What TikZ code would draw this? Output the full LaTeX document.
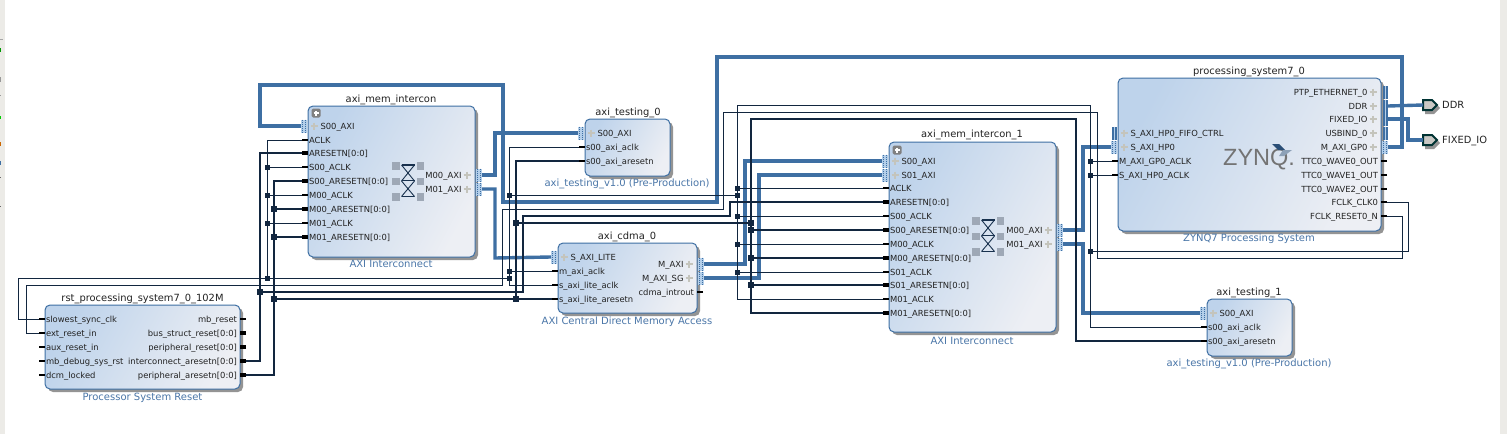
\documentclass[tikz,border=0pt]{standalone}
\usepackage{fontspec}
\setmainfont{DejaVu Sans}
\newfontfamily\zfont{Liberation Sans}
\usetikzlibrary{shadows}
\definecolor{vblue}{HTML}{3E6FA3}
\definecolor{vdark}{HTML}{12263F}
\definecolor{vlab}{HTML}{222222}
\definecolor{vsub}{HTML}{4A76A8}
\definecolor{vtop}{HTML}{BED3EB}
\definecolor{vbot}{HTML}{EDEFF4}
\definecolor{vstrip}{HTML}{ECEBE7}
\definecolor{vbus}{HTML}{B4CFEA}
\definecolor{vsq}{HTML}{9EA8B6}
\definecolor{vplus}{HTML}{C4C4BC}
\tikzset{
  x=1pt,y=-1pt,
  blockshape/.style={rectangle,rounded corners=5pt,draw=vblue,line width=1pt,left color=vtop,right color=vbot,shading angle=62,inner sep=0pt,outer sep=0pt,drop shadow={shadow xshift=3pt,shadow yshift=-3pt,fill=black!42,opacity=1}},
  pinlab/.style={font=\fontsize{8.4}{10}\selectfont,text=vlab,inner sep=0pt,outer sep=0pt},
  titlelab/.style={font=\fontsize{9.9}{11}\selectfont,text=vlab,inner sep=0pt,anchor=base},
  sublab/.style={font=\fontsize{10}{11}\selectfont,text=vsub,inner sep=0pt,anchor=base},
  portlab/.style={font=\fontsize{9.9}{11}\selectfont,text=vlab,inner sep=0pt,anchor=base west},
  stubc/.style={line width=2pt,draw=black},
  stubr/.style={line width=3.5pt,draw=black},
  busw/.style={line width=3.4pt,draw=vblue,line join=miter},
  thinw/.style={line width=1pt,draw=vdark,line join=miter},
  thickw/.style={line width=2pt,draw=vdark,line join=miter},
  jthin/.style={fill=vdark,inner sep=0pt,minimum size=5pt,rectangle},
  jthick/.style={fill=vdark,inner sep=0pt,minimum size=6.5pt,rectangle},
  portshape/.style={line width=2pt,draw=black!60!teal,fill=black!15!vstrip,line join=miter},
}
\newcommand\blk[5]{\node[blockshape,minimum width={(#4-#2)*1pt},minimum height={(#5-#3)*1pt}] (#1) at ({(#2+#4)/2},{(#3+#5)/2}) {};}
\newcommand\ttl[4]{\node[titlelab] (#1) at (#2,{#3+3}) {#4};}
\newcommand\subl[4]{\node[sublab] (#1) at (#2,{#3+3}) {#4};}
\newcommand\pinplus[2]{\draw[vplus,line width=1.3pt] ({#1-3.5},#2) -- ({#1+3.5},#2) ({#1},{#2-3.5}) -- ({#1},{#2+3.5});}
% clock / reset inputs and outputs
\newcommand\pcin[4]{\coordinate (#1) at ({#2-6},#3); \draw[stubc] (#1) -- ++(6,0); \node[pinlab,anchor=base west] (#1-t) at ({#2+1},{#3+3}) {#4};}
\newcommand\prin[4]{\coordinate (#1) at ({#2-6},#3); \draw[stubr] (#1) -- ++(6,0); \node[pinlab,anchor=base west] (#1-t) at ({#2+1},{#3+3}) {#4};}
\newcommand\pcout[4]{\coordinate (#1) at ({#2+6},#3); \draw[stubc] (#1) -- ++(-6,0); \node[pinlab,anchor=base east] (#1-t) at ({#2-3},{#3+3}) {#4};}
\newcommand\prout[4]{\coordinate (#1) at ({#2+6},#3); \draw[stubr] (#1) -- ++(-6,0); \node[pinlab,anchor=base east] (#1-t) at ({#2-3},{#3+3}) {#4};}
% bus pins
\newcommand\dotbus[2]{\fill[vbus] ({#1-3},{#2-6.5}) rectangle ({#1+3},{#2+6.5});
  \draw[vblue,line width=.9pt,dash pattern=on 1pt off 1pt] ({#1-1.5},{#2-6.5}) -- ({#1-1.5},{#2+6.5}) ({#1+1.5},{#2-6.5}) -- ({#1+1.5},{#2+6.5});}
\newcommand\solbus[2]{\fill[vblue] ({#1-2.5},{#2-6.5}) rectangle ({#1+2.5},{#2+6.5});
  \draw[vbus,line width=.9pt] ({#1},{#2-6.5}) -- ({#1},{#2+6.5});}
\newcommand\pbin[4]{\coordinate (#1) at ({#2-7},#3); \dotbus{#2-4}{#3} \pinplus{#2+6}{#3} \node[pinlab,anchor=base west] (#1-t) at ({#2+12.5},{#3+3}) {#4};}
\newcommand\pbout[4]{\coordinate (#1) at ({#2+7},#3); \dotbus{#2+4}{#3} \pinplus{#2-8}{#3} \node[pinlab,anchor=base east] (#1-t) at ({#2-13.5},{#3+3}) {#4};}
\newcommand\psin[4]{\coordinate (#1) at ({#2-7},#3); \solbus{#2-4}{#3} \pinplus{#2+6}{#3} \node[pinlab,anchor=base west] (#1-t) at ({#2+12.5},{#3+3}) {#4};}
\newcommand\psout[4]{\coordinate (#1) at ({#2+7},#3); \solbus{#2+4}{#3} \pinplus{#2-8}{#3} \node[pinlab,anchor=base east] (#1-t) at ({#2-13.5},{#3+3}) {#4};}
\newcommand\hglass[2]{%
  \foreach \dy in {0,15.5,31}{\fill[vsq] ({#1},{#2+\dy}) rectangle ({#1+7.5},{#2+\dy+7.5});
    \fill[vsq] ({#1+24.5},{#2+\dy}) rectangle ({#1+32},{#2+\dy+7.5});}
  \draw[vdark!85!vblue,line width=.9pt] ({#1+9.5},{#2+3}) -- ({#1+22.5},{#2+19}) ({#1+22.5},{#2+3}) -- ({#1+9.5},{#2+19}) ({#1+9.5},{#2+19}) -- ({#1+22.5},{#2+34.5}) ({#1+22.5},{#2+19}) -- ({#1+9.5},{#2+34.5}) ({#1+9.5},{#2+34.5}) -- ({#1+22.5},{#2+34.5});
  \draw[vdark!85!vblue,line width=1.8pt] ({#1+9.5},{#2+3}) -- ({#1+22.5},{#2+3}) ({#1+9.5},{#2+18.5}) -- ({#1+22.5},{#2+18.5});}
\newcommand\expbtn[2]{\fill[black!50,rounded corners=1.5pt] ({#1-4.5},{#2-4.5}) rectangle ({#1+4.5},{#2+4.5});
  \draw[white,line width=1.2pt] ({#1-2.5},#2) -- ({#1+2.5},#2) ({#1},{#2-2.5}) -- ({#1},{#2+2.5});}
\begin{document}
\begin{tikzpicture}
\useasboundingbox (0,0) rectangle (1507,434);
\fill[white] (0,0) rectangle (1507,434);
\fill[vstrip] (0,0) rectangle (5,434);
\fill[vstrip] (1500,0) rectangle (1507,434);
\fill[black!35] (0,39) rectangle (3,40);
\fill[green!60!black] (0,48) rectangle (1,52);
\fill[black!40] (0,77) rectangle (1,82);
\fill[black!40] (0,95) rectangle (1,96);
\fill[green!80!black] (0,116) rectangle (1,119);
\fill[orange!80!black] (0,142) rectangle (1,146);
\fill[vblue] (0,161) rectangle (1,165);
\fill[black!60] (0,177) rectangle (1,178);
\fill[black!60] (0,206) rectangle (1,207);

% ---- blocks ----
\blk{rst}{45}{305}{240}{389}
\blk{mem}{308}{106}{475}{257}
\blk{tst0}{585}{119}{670}{176}
\blk{cdma}{558}{243}{697}{313}
\blk{mem1}{889}{142}{1056}{332}
\blk{ps}{1118}{78}{1381}{231}
\blk{tst1}{1207}{299}{1292}{356}

\ttl{rst-n}{142.5}{298}{rst\_processing\_system7\_0\_102M}
\subl{rst-s}{142.5}{397}{Processor System Reset}
\ttl{mem-n}{391}{99}{axi\_mem\_intercon}
\subl{mem-s}{391}{264}{AXI Interconnect}
\ttl{tst0-n}{628}{112}{axi\_testing\_0}
\subl{tst0-s}{627}{183}{axi\_testing\_v1.0 (Pre-Production)}
\ttl{cdma-n}{627}{236}{axi\_cdma\_0}
\subl{cdma-s}{627}{321}{AXI Central Direct Memory Access}
\ttl{mem1-n}{972}{134}{axi\_mem\_intercon\_1}
\subl{mem1-s}{972}{341}{AXI Interconnect}
\ttl{ps-n}{1249}{71}{processing\_system7\_0}
\subl{ps-s}{1249}{238}{ZYNQ7 Processing System}
\ttl{tst1-n}{1249}{292}{axi\_testing\_1}
\subl{tst1-s}{1249}{363}{axi\_testing\_v1.0 (Pre-Production)}

% ---- rst pins ----
\pcin{rst-slow}{45}{319}{slowest\_sync\_clk}
\pcin{rst-ext}{45}{333}{ext\_reset\_in}
\pcin{rst-aux}{45}{347}{aux\_reset\_in}
\pcin{rst-dbg}{45}{361}{mb\_debug\_sys\_rst}
\pcin{rst-dcm}{45}{375}{dcm\_locked}
\pcout{rst-mb}{240}{319}{mb\_reset}
\prout{rst-bus}{240}{333}{bus\_struct\_reset[0:0]}
\prout{rst-per}{240}{347}{peripheral\_reset[0:0]}
\prout{rst-ic}{240}{361}{interconnect\_aresetn[0:0]}
\prout{rst-pa}{240}{375}{peripheral\_aresetn[0:0]}

% ---- axi_mem_intercon pins ----
\expbtn{316}{113}
\pbin{mem-s00}{308}{126}{S00\_AXI}
\pcin{mem-aclk}{308}{140}{ACLK}
\prin{mem-arst}{308}{153}{ARESETN[0:0]}
\pcin{mem-s0c}{308}{167}{S00\_ACLK}
\prin{mem-s0r}{308}{181}{S00\_ARESETN[0:0]}
\pcin{mem-m0c}{308}{195}{M00\_ACLK}
\prin{mem-m0r}{308}{209}{M00\_ARESETN[0:0]}
\pcin{mem-m1c}{308}{223}{M01\_ACLK}
\prin{mem-m1r}{308}{237}{M01\_ARESETN[0:0]}
\pbout{mem-m00}{475}{175}{M00\_AXI}
\pbout{mem-m01}{475}{189}{M01\_AXI}
\hglass{392}{162}

% ---- axi_testing_0 pins ----
\pbin{t0-s}{585}{133}{S00\_AXI}
\pcin{t0-c}{585}{147}{s00\_axi\_aclk}
\pcin{t0-r}{585}{161}{s00\_axi\_aresetn}

% ---- axi_cdma_0 pins ----
\pbin{c-lite}{558}{257}{S\_AXI\_LITE}
\pcin{c-mc}{558}{271}{m\_axi\_aclk}
\pcin{c-sc}{558}{285}{s\_axi\_lite\_aclk}
\pcin{c-sr}{558}{299}{s\_axi\_lite\_aresetn}
\pbout{c-m}{697}{264}{M\_AXI}
\pbout{c-sg}{697}{278}{M\_AXI\_SG}
\pcout{c-int}{697}{292}{cdma\_introut}

% ---- axi_mem_intercon_1 pins ----
\expbtn{897}{150}
\pbin{m1-s00}{889}{161}{S00\_AXI}
\pbin{m1-s01}{889}{175}{S01\_AXI}
\pcin{m1-aclk}{889}{188}{ACLK}
\prin{m1-arst}{889}{202}{ARESETN[0:0]}
\pcin{m1-s0c}{889}{216}{S00\_ACLK}
\prin{m1-s0r}{889}{230}{S00\_ARESETN[0:0]}
\pcin{m1-m0c}{889}{244}{M00\_ACLK}
\prin{m1-m0r}{889}{258}{M00\_ARESETN[0:0]}
\pcin{m1-s1c}{889}{272}{S01\_ACLK}
\prin{m1-s1r}{889}{285}{S01\_ARESETN[0:0]}
\pcin{m1-m1c}{889}{299}{M01\_ACLK}
\prin{m1-m1r}{889}{313}{M01\_ARESETN[0:0]}
\pbout{m1-m00}{1056}{230}{M00\_AXI}
\pbout{m1-m01}{1056}{244}{M01\_AXI}
\hglass{972}{217}

% ---- processing_system7_0 pins ----
\psin{ps-fifo}{1118}{133}{S\_AXI\_HP0\_FIFO\_CTRL}
\pbin{ps-hp0}{1118}{147}{S\_AXI\_HP0}
\pcin{ps-gpc}{1118}{161}{M\_AXI\_GP0\_ACLK}
\pcin{ps-hpc}{1118}{175}{S\_AXI\_HP0\_ACLK}
\psout{ps-ptp}{1381}{92}{PTP\_ETHERNET\_0}
\psout{ps-ddr}{1381}{106}{DDR}
\psout{ps-fix}{1381}{119}{FIXED\_IO}
\psout{ps-usb}{1381}{133}{USBIND\_0}
\pbout{ps-gp0}{1381}{147}{M\_AXI\_GP0}
\pcout{ps-t0}{1381}{161}{TTC0\_WAVE0\_OUT}
\pcout{ps-t1}{1381}{175}{TTC0\_WAVE1\_OUT}
\pcout{ps-t2}{1381}{189}{TTC0\_WAVE2\_OUT}
\pcout{ps-clk}{1381}{202}{FCLK\_CLK0}
\pcout{ps-rst}{1381}{216}{FCLK\_RESET0\_N}
% ZYNQ logo
\node[font=\zfont\fontsize{23.5}{24}\selectfont,text=black!55,inner sep=0pt,anchor=base west] (zynq) at (1223,165) {ZYNQ.};
\fill[vblue!55!vdark] (1272,144) -- (1279,144) -- (1285,150) -- (1278,150) -- cycle;
\fill[black!22!vbus] (1283,150) -- (1292,150) -- (1284,156) -- (1279,156) -- cycle;

% ---- axi_testing_1 pins ----
\pbin{t1-s}{1207}{313}{S00\_AXI}
\pcin{t1-c}{1207}{327}{s00\_axi\_aclk}
\pcin{t1-r}{1207}{341}{s00\_axi\_aresetn}

% ---- external ports ----
\coordinate (ddr) at (1423,105);
\coordinate (fixio) at (1423,140);
\fill[black!42] (1425,102) -- (1434,102) -- (1440,108) -- (1434,114) -- (1425,114) -- cycle;
\draw[portshape] (1423,100) -- (1432,100) -- (1437,105) -- (1432,110) -- (1423,110) -- cycle;
\fill[black!42] (1425,137) -- (1434,137) -- (1440,143) -- (1434,149) -- (1425,149) -- cycle;
\draw[portshape] (1423,135) -- (1432,135) -- (1437,140) -- (1432,145) -- (1423,145) -- cycle;
\node[portlab] (ddr-t) at (1442,108) {DDR};
\node[portlab] (fix-t) at (1442,143) {FIXED\_IO};

% ---- bus wires ----
\draw[busw] (ps-gp0) -- (1402,147) -- (1402,57) -- (717,57) -- (717,202) -- (503,202) -- (503,85) -- (260,85) -- (260,126) -- (mem-s00);
\draw[busw] (mem-m00) -- (495,175) -- (495,133) -- (t0-s);
\draw[busw] (mem-m01) -- (495,189) -- (495,258) -- (c-lite);
\draw[busw] (c-m) -- (745,264) -- (745,161) -- (m1-s00);
\draw[busw] (c-sg) -- (759,278) -- (759,175) -- (m1-s01);
\draw[busw] (m1-m00) -- (1083,230) -- (1083,147) -- (ps-hp0);
\draw[busw] (m1-m01) -- (1083,244) -- (1083,313) -- (t1-s);
\draw[busw] (ps-ddr) -- (ddr);
\draw[busw] (ps-fix) -- (1408,119) -- (1408,140) -- (fixio);

% ---- clock net ----
\coordinate (cA) at (267,278);
\coordinate (cB) at (509,278);
\coordinate (cC) at (509,195);
\coordinate (cD) at (737,195);
\coordinate (cE) at (1090,251);
\draw[thinw] (ps-clk) -- (1408,202) -- (1408,251) -- (cE);
\draw[thinw] (cE) -- (1090,327) -- (t1-c);
\draw[thinw] (cE) -- (1090,105) -- (737,105) -- (737,299) -- (m1-m1c);
\draw[thinw] (1090,161) -- (ps-gpc);
\draw[thinw] (1090,175) -- (ps-hpc);
\draw[thinw] (737,188) -- (m1-aclk);
\draw[thinw] (737,216) -- (m1-s0c);
\draw[thinw] (737,244) -- (m1-m0c);
\draw[thinw] (737,272) -- (m1-s1c);
\draw[thinw] (cD) -- (cC);
\draw[thinw] (t0-c) -- (509,147) -- (509,285) -- (c-sc);
\draw[thinw] (509,271) -- (c-mc);
\draw[thinw] (rst-slow) -- (18,319) -- (18,278) -- (cB);
\draw[thinw] (mem-aclk) -- (267,140) -- (cA);
\draw[thinw] (267,167) -- (mem-s0c);
\draw[thinw] (267,195) -- (mem-m0c);
\draw[thinw] (267,223) -- (mem-m1c);

% ---- reset net from FCLK_RESET0_N ----
\draw[thinw] (ps-rst) -- (1402,216) -- (1402,258) -- (1097,258) -- (1097,112) -- (723,112) -- (723,209) -- (502,209) -- (502,285) -- (26,285) -- (26,333) -- (rst-ext);

% ---- interconnect_aresetn net ----
\draw[thickw] (rst-ic) -- (260,361) -- (260,153) -- (mem-arst);
\draw[thickw] (260,292) -- (523,292) -- (523,216) -- (730,216) -- (730,202) -- (m1-arst);

% ---- peripheral_aresetn net ----
\draw[thickw] (rst-pa) -- (274,375) -- (274,181) -- (mem-s0r);
\draw[thickw] (274,209) -- (mem-m0r);
\draw[thickw] (274,237) -- (mem-m1r);
\draw[thickw] (274,299) -- (c-sr);
\draw[thickw] (t0-r) -- (516,161) -- (516,299);
\draw[thickw] (516,223) -- (751,223);
\draw[thickw] (m1-m1r) -- (751,313) -- (751,119) -- (1076,119) -- (1076,341) -- (t1-r);
\draw[thickw] (751,230) -- (m1-s0r);
\draw[thickw] (751,258) -- (m1-m0r);
\draw[thickw] (751,285) -- (m1-s1r);

% ---- junctions ----
\foreach \p [count=\i] in {{267,167},{267,195},{267,223},{267,278},{509,195},{509,271},{509,278},{737,188},{737,195},{737,216},{737,244},{737,272},{1090,161},{1090,175},{1090,251}}
  \node[jthin] (jc\i) at (\p) {};
\foreach \p [count=\i] in {{260,292},{274,209},{274,237},{274,299},{516,223},{516,299},{751,223},{751,230},{751,258},{751,285}}
  \node[jthick] (jr\i) at (\p) {};
\end{tikzpicture}
\end{document}
